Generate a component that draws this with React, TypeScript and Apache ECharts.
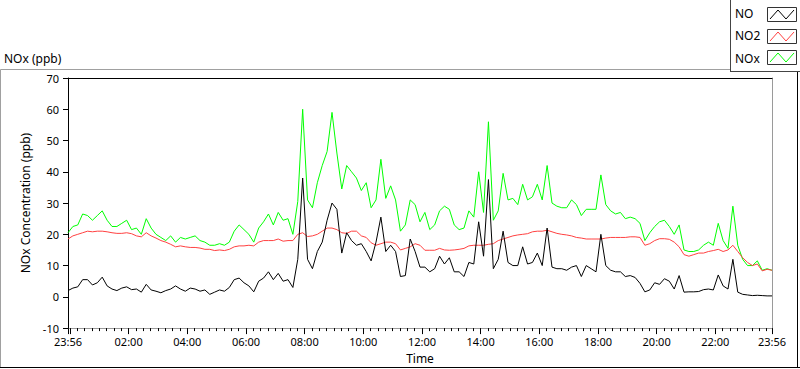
import React, { useEffect, useRef } from "react";
import * as echarts from "echarts";

// ---------- data (one sample every 10 minutes from 23:56) ----------
const SAMPLE_STEP_MIN = 10;

const noValues = [
  2.0, 2.8, 3.2, 5.5, 5.5, 3.8, 4.5, 6.3, 3.5, 2.5,
  2.0, 2.8, 3.2, 2.3, 2.5, 1.5, 4.0, 2.2, 1.8, 1.3,
  2.0, 2.5, 3.5, 2.5, 1.8, 2.8, 2.5, 1.8, 2.2, 0.8,
  1.5, 2.2, 1.8, 3.0, 5.5, 6.0, 4.5, 3.5, 1.6, 5.0,
  6.0, 8.0, 5.5, 7.5, 5.0, 5.5, 3.0, 12.0, 38.0, 12.0,
  9.0, 14.5, 17.5, 24.5, 30.0, 28.0, 14.0, 20.5, 18.0, 16.5,
  17.0, 14.5, 11.5, 17.5, 25.5, 14.5, 16.5, 14.5, 6.5, 6.8,
  18.5, 14.5, 9.5, 9.5, 8.0, 9.0, 13.0, 10.5, 12.5, 8.0,
  8.0, 6.5, 11.0, 10.5, 24.0, 13.0, 37.5, 9.0, 12.0, 21.0,
  11.0, 10.0, 10.0, 16.0, 10.5, 11.0, 14.0, 10.0, 22.0, 9.5,
  9.0, 9.0, 8.5, 9.5, 10.0, 6.5, 10.0, 9.0, 8.0, 20.0,
  10.0, 8.5, 8.0, 8.0, 6.5, 6.8, 6.2, 4.3, 1.6, 2.2,
  4.5, 4.0, 5.8, 5.0, 2.5, 6.8, 1.5, 1.6, 1.6, 1.7,
  2.3, 2.5, 2.2, 7.0, 3.5, 2.5, 12.0, 1.5, 0.8, 0.6,
  0.4, 0.5, 0.4, 0.3, 0.3,
];

const no2Values = [
  18.5, 19.5, 20.0, 20.5, 21.0, 20.8, 21.0, 21.0, 20.8, 20.5,
  20.3, 20.3, 20.5, 20.2, 19.5, 19.2, 20.5, 19.5, 18.8, 18.0,
  17.5, 16.8, 16.0, 16.3, 16.0, 15.8, 15.8, 15.6, 15.2, 15.2,
  14.8, 15.0, 14.8, 15.2, 16.0, 16.3, 16.3, 16.5, 16.3, 17.5,
  18.0, 18.0, 18.0, 18.5, 17.8, 18.0, 18.0, 20.0, 20.5, 19.3,
  19.5, 20.0, 21.0, 22.0, 22.0, 21.5, 20.5, 20.3, 21.0, 21.0,
  19.5, 19.0, 17.3, 16.5, 17.0, 17.5, 17.5, 17.0, 15.0, 15.5,
  16.0, 17.0, 16.5, 14.9, 14.9, 14.9, 15.5, 15.0, 14.9, 15.0,
  15.2, 15.5, 16.3, 16.5, 16.5, 16.5, 16.8, 17.0, 18.0, 18.5,
  19.0, 19.5, 19.8, 20.0, 20.2, 20.8, 21.0, 21.0, 21.3, 20.8,
  20.3, 20.0, 19.8, 19.5, 19.0, 18.8, 18.5, 18.5, 18.5, 18.5,
  18.8, 19.0, 19.0, 19.0, 19.0, 19.2, 19.2, 19.0, 16.5, 17.0,
  18.0, 18.6, 18.6, 18.4, 17.5, 16.0, 13.5, 13.0, 13.5, 14.0,
  14.0, 14.5, 14.8, 15.2, 14.5, 15.0, 16.5, 14.5, 12.5, 11.0,
  10.0, 10.5, 8.3, 8.8, 8.5,
];

const noxValues = [
  20.5, 22.5, 23.0, 26.5, 26.0, 24.5, 26.0, 27.5, 24.5, 22.5,
  22.5, 23.5, 24.5, 21.5, 22.0, 20.0, 25.0, 22.0, 20.0, 19.0,
  18.0, 19.5, 17.5, 19.0, 18.5, 19.0, 19.5, 18.0, 17.5, 16.5,
  16.5, 17.0, 16.5, 17.5, 21.0, 23.0, 21.5, 20.0, 17.5, 22.0,
  24.0, 26.5, 23.0, 27.0, 24.5, 25.0, 20.0, 30.5, 60.0, 31.0,
  28.5, 36.5, 42.0, 46.5, 59.0, 46.0, 34.5, 42.0, 40.0, 38.0,
  34.0, 36.5, 28.5, 31.0, 44.0, 31.5, 35.5, 31.0, 21.0, 23.0,
  31.0, 29.5, 24.0, 27.0, 21.5, 23.0, 27.5, 29.0, 28.0, 23.0,
  21.5, 22.0, 27.5, 25.5, 40.0, 27.0, 56.0, 24.5, 27.5, 39.5,
  31.0, 31.5, 29.5, 36.0, 31.0, 32.0, 36.0, 31.0, 42.0, 30.0,
  29.0, 28.5, 28.5, 31.0, 29.5, 26.0, 28.0, 28.0, 28.0, 39.0,
  29.5, 27.5, 26.5, 27.0, 25.0, 25.5, 25.0, 23.5, 18.0, 20.5,
  22.5, 24.0, 24.5, 22.5, 20.0, 23.0, 15.0, 14.5, 14.5, 15.0,
  16.5, 17.5, 16.5, 23.5, 18.0, 15.5, 29.0, 16.5, 12.0, 10.0,
  10.0, 11.5, 8.5, 9.0, 8.5,
];

const seriesNames = ["NO", "NO2", "NOx"];
const seriesColors = ["#000000", "#ff4040", "#00ff00"];

// x axis: minutes after 23:56
const X_MAX_MIN = 1440;
const xLabelMinutes = [0, 124, 244, 364, 484, 604, 724, 844, 964, 1084, 1204, 1324, 1440];
const xLabelTexts = ["23:56", "02:00", "04:00", "06:00", "08:00", "10:00", "12:00", "14:00", "16:00", "18:00", "20:00", "22:00", "23:56"];
const xMajorTickMinutes = [0, 4, 124, 244, 364, 484, 604, 724, 844, 964, 1084, 1204, 1324, 1440];
const xMinorTickMinutes: number[] = [];
for (let m = 19; m < X_MAX_MIN; m += 15) {
  if ((m - 4) % 120 !== 0) xMinorTickMinutes.push(m);
}

const Y_MIN = -10;
const Y_MAX = 70;
const Y_INTERVAL = 10;

const chartTitle = "NOx (ppb)";
const xAxisTitle = "Time";
const yAxisTitle = "NOx Concentration (ppb)";

const FONT = "'Noto Sans', 'DejaVu Sans', sans-serif";

export default function App() {
  const ref = useRef<HTMLDivElement>(null);

  useEffect(() => {
    document.body.style.margin = "0";
    if (!ref.current) return;
    const chart = echarts.init(ref.current, undefined, { renderer: "svg" });

    const toPairs = (vals: number[]) => vals.map((v, i) => [i * SAMPLE_STEP_MIN, v]);
    const labelFor = (v: number) => {
      const idx = xLabelMinutes.indexOf(Math.round(v));
      return idx >= 0 ? xLabelTexts[idx] : "";
    };

    const legendRows = [0, 1, 2].map((i) => {
      const boxTop = 7 + i * 21.7;
      const textY = 14 + i * 22.7;
      return [
        {
          type: "text",
          left: 735,
          top: textY - 7,
          style: { text: seriesNames[i], fill: "#000", font: `12px ${FONT}` },
        },
        {
          type: "rect",
          shape: { x: 767.5, y: Math.round(boxTop) + 0.5, width: 29, height: 14 },
          style: { fill: "#fff", stroke: "#333", lineWidth: 1 },
        },
        {
          type: "polyline",
          shape: {
            points: [
              [770, Math.round(boxTop) + 12],
              [778, Math.round(boxTop) + 3],
              [786, Math.round(boxTop) + 12],
              [794, Math.round(boxTop) + 3],
            ],
          },
          style: { stroke: seriesColors[i], lineWidth: 1, fill: "none" },
        },
      ];
    });

    const option: any = {
      animation: false,
      backgroundColor: "#ffffff",
      textStyle: { fontFamily: FONT, fontSize: 11, color: "#000" },
      grid: { left: 68, top: 78, width: 704, height: 252, containLabel: false },
      xAxis: [
        {
          type: "value",
          min: 0,
          max: X_MAX_MIN,
          position: "bottom",
          axisLine: { show: true, onZero: false, lineStyle: { color: "#9a9a9a", width: 1 } },
          axisTick: { show: true, customValues: xMajorTickMinutes, length: 6, lineStyle: { color: "#000" } },
          axisLabel: {
            show: true,
            customValues: xLabelMinutes,
            formatter: (v: number) => labelFor(v),
            margin: 8,
            color: "#000",
            fontSize: 11,
            fontFamily: FONT,
          },
          splitLine: { show: false },
          name: xAxisTitle,
          nameLocation: "middle",
          nameGap: 23,
          nameTextStyle: { color: "#000", fontSize: 12, fontFamily: FONT },
        },
        {
          type: "value",
          min: 0,
          max: X_MAX_MIN,
          position: "bottom",
          axisLine: { show: false, onZero: false },
          axisTick: { show: true, customValues: xMinorTickMinutes, length: 3, lineStyle: { color: "#000" } },
          axisLabel: { show: false },
          splitLine: { show: false },
        },
        {
          type: "value",
          min: 0,
          max: X_MAX_MIN,
          position: "top",
          axisLine: { show: true, onZero: false, lineStyle: { color: "#000", width: 1 } },
          axisTick: { show: false },
          axisLabel: { show: false },
          splitLine: { show: false },
        },
      ],
      yAxis: [
        {
          type: "value",
          min: Y_MIN,
          max: Y_MAX,
          interval: Y_INTERVAL,
          position: "left",
          axisLine: { show: true, onZero: false, lineStyle: { color: "#000", width: 1 } },
          axisTick: { show: true, length: 5, lineStyle: { color: "#000" } },
          axisLabel: { margin: 9, color: "#000", fontSize: 11, fontFamily: FONT },
          splitLine: { show: false },
          name: yAxisTitle,
          nameLocation: "middle",
          nameGap: 23,
          nameRotate: 90,
          nameTextStyle: { color: "#000", fontSize: 12, fontFamily: FONT },
        },
        {
          type: "value",
          min: Y_MIN,
          max: Y_MAX,
          interval: Y_INTERVAL,
          position: "right",
          axisLine: { show: true, onZero: false, lineStyle: { color: "#9a9a9a", width: 1 } },
          axisTick: { show: false },
          axisLabel: { show: false },
          splitLine: { show: false },
        },
      ],
      graphic: [
        // outer frame
        { type: "line", shape: { x1: 0.5, y1: 69.5, x2: 0.5, y2: 367 }, style: { stroke: "#a0a0a0", lineWidth: 1 } },
        { type: "line", shape: { x1: 0.5, y1: 69.5, x2: 730, y2: 69.5 }, style: { stroke: "#a0a0a0", lineWidth: 1 } },
        { type: "line", shape: { x1: 0, y1: 367.5, x2: 800, y2: 367.5 }, style: { stroke: "#000", lineWidth: 1 } },
        { type: "line", shape: { x1: 797.5, y1: 72, x2: 797.5, y2: 368 }, style: { stroke: "#000", lineWidth: 1 } },
        // legend box
        { type: "line", shape: { x1: 730.5, y1: 0, x2: 730.5, y2: 72 }, style: { stroke: "#444", lineWidth: 1 } },
        { type: "line", shape: { x1: 730.5, y1: 71.5, x2: 800, y2: 71.5 }, style: { stroke: "#444", lineWidth: 1 } },
        ...legendRows.flat(),
        // chart title
        {
          type: "text",
          left: 4,
          top: 52,
          style: { text: chartTitle, fill: "#000", font: `12px ${FONT}` },
        },
      ],
      series: [
        {
          name: seriesNames[2],
          type: "line",
          data: toPairs(noxValues),
          showSymbol: false,
          symbol: "none",
          lineStyle: { color: seriesColors[2], width: 1 },
          itemStyle: { color: seriesColors[2] },
          xAxisIndex: 0,
          yAxisIndex: 0,
          z: 2,
        },
        {
          name: seriesNames[1],
          type: "line",
          data: toPairs(no2Values),
          showSymbol: false,
          symbol: "none",
          lineStyle: { color: seriesColors[1], width: 1 },
          itemStyle: { color: seriesColors[1] },
          xAxisIndex: 0,
          yAxisIndex: 0,
          z: 3,
        },
        {
          name: seriesNames[0],
          type: "line",
          data: toPairs(noValues),
          showSymbol: false,
          symbol: "none",
          lineStyle: { color: seriesColors[0], width: 1 },
          itemStyle: { color: seriesColors[0] },
          xAxisIndex: 0,
          yAxisIndex: 0,
          z: 4,
        },
      ],
    };

    chart.setOption(option);
    return () => chart.dispose();
  }, []);

  return <div ref={ref} style={{ width: 800, height: 369 }} />;
}
